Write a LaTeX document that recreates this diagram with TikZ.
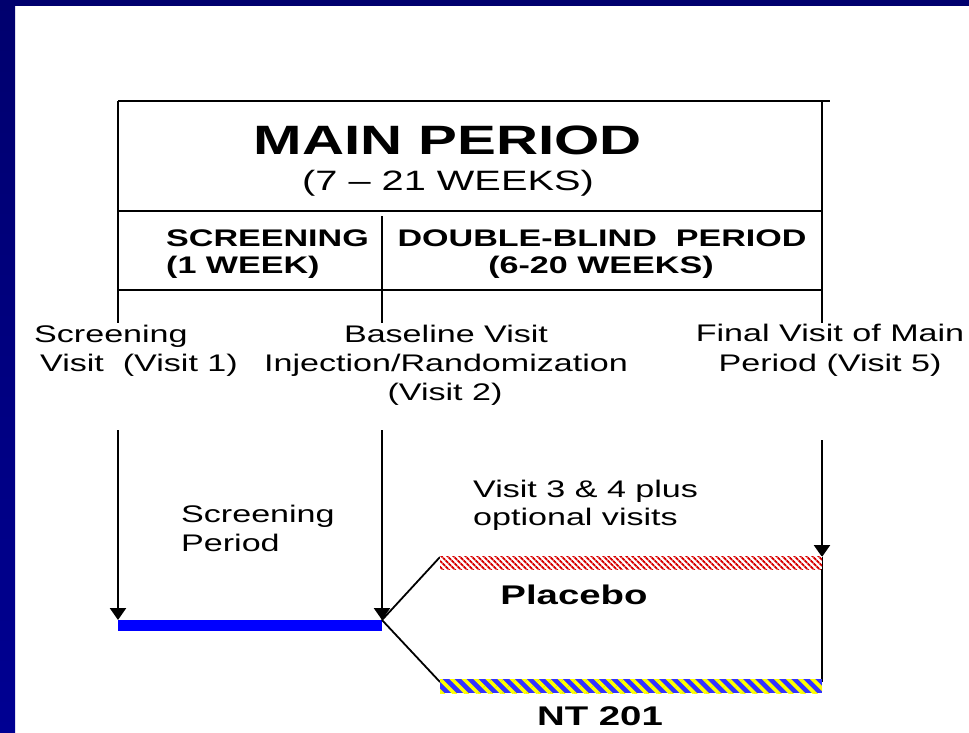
\documentclass[tikz,border=0pt]{standalone}
\usepackage{fontspec}
\setmainfont{Liberation Sans}
\newfontfamily\wfont[FakeStretch=1.42,Ligatures=TeX]{Liberation Sans}
\usetikzlibrary{arrows.meta,patterns.meta}
\definecolor{navytop}{RGB}{0,0,110}
\definecolor{navybot}{RGB}{0,0,146}
\definecolor{barblue}{RGB}{0,0,255}
\definecolor{hatchblue}{RGB}{51,51,255}
\definecolor{hatchred}{RGB}{215,0,0}
\definecolor{hatchyel}{RGB}{255,255,0}
\tikzset{
  frame/.style={line width=2.2pt,black},
  arr/.style={line width=2.4pt,black,-{Triangle[width=16pt,length=12pt]}},
  diag/.style={line width=1.8pt,black},
  lab/.style={inner sep=0pt,font=\wfont\fontsize{24}{29}\selectfont},
  hdr/.style={inner sep=0pt,font=\wfont\bfseries\fontsize{24}{29}\selectfont},
  arm/.style={inner sep=0pt,font=\wfont\bfseries\fontsize{27}{32}\selectfont},
}
\begin{document}
\begin{tikzpicture}[x=1pt,y=-1pt]
\useasboundingbox (0,0) rectangle (969,732);
\fill[white] (0,0) rectangle (969,732);
% navy border strips
\shade[top color=navytop,bottom color=navybot] (0,0) rectangle (15,732);
\fill[navytop] (0,0) rectangle (969,6);

% box coordinates
\coordinate (tl) at (118,101);
\coordinate (tr) at (830,101);
\coordinate (rtop) at (822,101);
\coordinate (lbot) at (118,323);
\coordinate (rbot) at (822,323);
\coordinate (h1l) at (118,211);
\coordinate (h1r) at (822,211);
\coordinate (h2l) at (118,290);
\coordinate (h2r) at (823,290);
\coordinate (mtop) at (382,216);
\coordinate (mbot) at (382,323);
\draw[frame] (tl) -- (tr);
\draw[frame] (tl) -- (lbot);
\draw[frame] (rtop) -- (rbot);
\draw[frame] (h1l) -- (h1r);
\draw[frame] (h2l) -- (h2r);
\draw[frame] (mtop) -- (mbot);

% titles
\node[inner sep=0pt,anchor=base,font=\wfont\bfseries\fontsize{41}{48}\selectfont] (main) at (448,154) {MAIN PERIOD};
\node[inner sep=0pt,anchor=base,font=\wfont\fontsize{28}{33}\selectfont] (weeks) at (448,190) {(7 – 21 WEEKS)};
\node[hdr,anchor=base west] (scr1) at (166,246) {SCREENING};
\node[hdr,anchor=base west] (scr2) at (166,273) {(1 WEEK)};
\node[hdr,anchor=base] (db1) at (602,246) {DOUBLE-BLIND\ \ PERIOD};
\node[hdr,anchor=base] (db2) at (601,273) {(6-20 WEEKS)};

% visit labels
\node[lab,anchor=base west] (sv1) at (34,342) {Screening};
\node[lab,anchor=base west] (sv2) at (40,371) {Visit\ \ (Visit 1)};
\node[lab,anchor=base] (bv1) at (446,342) {Baseline Visit};
\node[lab,anchor=base] (bv2) at (446,371) {Injection/Randomization};
\node[lab,anchor=base] (bv3) at (445,400) {(Visit 2)};
\node[lab,anchor=base] (fv1) at (830,341) {Final Visit of Main};
\node[lab,anchor=base] (fv2) at (830,371) {Period (Visit 5)};

% arrows
\coordinate (a1s) at (118,430);
\coordinate (a1e) at (118,620);
\coordinate (a2s) at (382,430);
\coordinate (a2e) at (382,620);
\coordinate (a3s) at (822,440);
\coordinate (a3e) at (822,557);
\draw[arr] (a1s) -- (a1e);
\draw[arr] (a2s) -- (a2e);
\draw[arr] (a3s) -- (a3e);

\node[lab,anchor=base west] (sp1) at (181,522) {Screening};
\node[lab,anchor=base west] (sp2) at (181,551) {Period};
\node[lab,anchor=base west] (v34a) at (473,497) {Visit 3 \& 4 plus};
\node[lab,anchor=base west] (v34b) at (473,525) {optional visits};

% bars
\fill[barblue] (118,620) rectangle (382,631);
\coordinate (pl) at (440,557);
\coordinate (nl) at (440,682);
\coordinate (nr) at (822,682);
\draw[diag] (a2e) -- (pl);
\draw[diag] (a2e) -- (nl);
\draw[line width=2.2pt] (a3e) -- (nr);
\fill[white] (440,556) rectangle (822,569);
\fill[pattern={Lines[angle=-45,distance=4pt,line width=2pt]},pattern color=hatchred] (440,556) rectangle (822,569);
\fill[hatchblue] (440,679) rectangle (822,693);
\fill[pattern={Lines[angle=-45,distance=8.5pt,line width=3.6pt]},pattern color=hatchyel] (440,679) rectangle (822,693);

\node[arm,anchor=base] (plac) at (574,604) {Placebo};
\node[arm,anchor=base] (nt) at (600,725) {NT 201};
\end{tikzpicture}
\end{document}
